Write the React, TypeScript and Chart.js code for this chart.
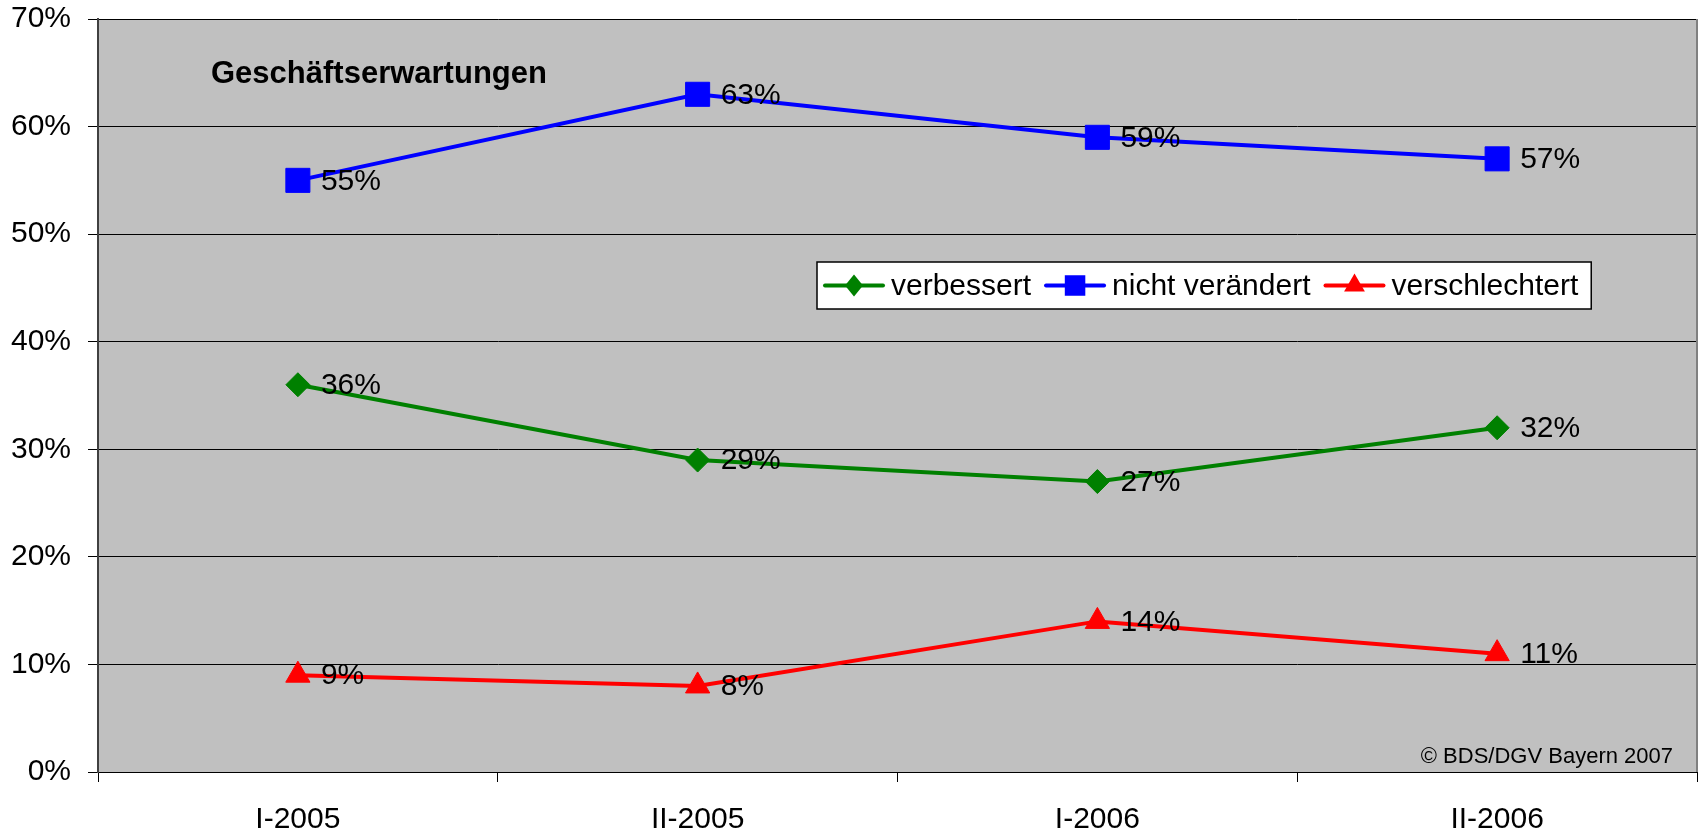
import React, { useEffect, useRef } from 'react';
import { Chart, registerables } from 'chart.js';

Chart.register(...registerables);

const categories = ['I-2005', 'II-2005', 'I-2006', 'II-2006'];
const verbessert = [36, 29, 27, 32];
const nichtVeraendert = [55, 63, 59, 57];
const verschlechtert = [9, 8, 14, 11];
const seriesNames = ['verbessert', 'nicht verändert', 'verschlechtert'];
const seriesColors = ['#008000', '#0000FF', '#FF0000'];
const seriesMarkers = ['rectRot', 'rect', 'triangle'];
const markerRadii = [12, 17, 14];
const legendMarkerRadii = [10, 14.5, 12];
const yMin = 0;
const yMax = 70;
const yStep = 10;
const chartTitle = 'Geschäftserwartungen';
const sourceNote = '© BDS/DGV Bayern 2007';

const FONT = '"Liberation Sans", Arial, Helvetica, sans-serif';

function drawMarker(ctx: CanvasRenderingContext2D, style: string, x: number, y: number, r: number, color: string) {
  ctx.save();
  ctx.fillStyle = color;
  ctx.beginPath();
  if (style === 'rect') {
    const s = Math.SQRT1_2 * r;
    ctx.rect(x - s, y - s, 2 * s, 2 * s);
  } else if (style === 'rectRot') {
    ctx.moveTo(x, y - r * 1.1);
    ctx.lineTo(x + r * 0.9, y);
    ctx.lineTo(x, y + r * 1.1);
    ctx.lineTo(x - r * 0.9, y);
    ctx.closePath();
  } else {
    const a = Math.PI * 2 / 3;
    ctx.moveTo(x, y - r);
    ctx.lineTo(x + Math.sin(a) * r, y - Math.cos(a) * r);
    ctx.lineTo(x - Math.sin(a) * r, y - Math.cos(a) * r);
    ctx.closePath();
  }
  ctx.fill();
  ctx.restore();
}

const backgroundPlugin = {
  id: 'bgPlugin',
  beforeDraw(chart: any) {
    const { ctx, chartArea, width, height } = chart;
    ctx.save();
    ctx.fillStyle = '#FFFFFF';
    ctx.fillRect(0, 0, width, height);
    ctx.fillStyle = '#C0C0C0';
    ctx.fillRect(chartArea.left, chartArea.top, chartArea.right - chartArea.left, chartArea.bottom - chartArea.top);
    ctx.restore();
  },
};

const overlayPlugin = {
  id: 'overlayPlugin',
  afterDatasetsDraw(chart: any) {
    const { ctx, chartArea } = chart;
    ctx.save();
    // right border of plot area
    ctx.strokeStyle = '#808080';
    ctx.lineWidth = 2;
    ctx.beginPath();
    ctx.moveTo(chartArea.right, chartArea.top);
    ctx.lineTo(chartArea.right, chartArea.bottom);
    ctx.stroke();

    // data labels
    ctx.fillStyle = '#000';
    ctx.font = `30px ${FONT}`;
    ctx.textAlign = 'left';
    ctx.textBaseline = 'middle';
    chart.data.datasets.forEach((ds: any, i: number) => {
      const meta = chart.getDatasetMeta(i);
      meta.data.forEach((pt: any, j: number) => {
        ctx.fillText(ds.data[j] + '%', pt.x + 23, pt.y + 1);
      });
    });

    // title
    ctx.font = `bold 31px ${FONT}`;
    ctx.textBaseline = 'middle';
    ctx.fillText(chartTitle, 211, 74);

    // source note
    ctx.font = `22px ${FONT}`;
    ctx.textAlign = 'right';
    ctx.textBaseline = 'alphabetic';
    ctx.fillText(sourceNote, chartArea.right - 24, chartArea.bottom - 9);

    // legend
    ctx.font = `30px ${FONT}`;
    ctx.textAlign = 'left';
    ctx.textBaseline = 'middle';
    const boxLeft = 817;
    const boxTop = 262;
    const boxH = 47;
    const lineLen = 58;
    const gapText = 8;
    const gapItem = 15;
    let total = 8;
    const widths = seriesNames.map((n) => ctx.measureText(n).width);
    widths.forEach((w, i) => {
      total += lineLen + gapText + w + (i < widths.length - 1 ? gapItem : 0);
    });
    total += 13;
    ctx.fillStyle = '#FFFFFF';
    ctx.fillRect(boxLeft, boxTop, total, boxH);
    ctx.strokeStyle = '#000';
    ctx.lineWidth = 1.5;
    ctx.strokeRect(boxLeft, boxTop, total, boxH);
    const cy = boxTop + boxH / 2;
    let x = boxLeft + 8;
    seriesNames.forEach((n, i) => {
      ctx.strokeStyle = seriesColors[i];
      ctx.lineWidth = 4;
      ctx.lineCap = 'round';
      ctx.beginPath();
      ctx.moveTo(x, cy);
      ctx.lineTo(x + lineLen, cy);
      ctx.stroke();
      drawMarker(ctx, seriesMarkers[i], x + lineLen / 2, cy, legendMarkerRadii[i], seriesColors[i]);
      x += lineLen + gapText;
      ctx.fillStyle = '#000';
      ctx.fillText(n, x, cy + 1);
      x += widths[i] + gapItem;
    });
    ctx.restore();
  },
};

function zeroPadding(scale: any) {
  scale.paddingTop = 0;
  scale.paddingBottom = 0;
  scale.paddingLeft = 0;
  scale.paddingRight = 0;
}

export default function App() {
  const ref = useRef<HTMLCanvasElement | null>(null);
  useEffect(() => {
    if (!ref.current) return;
    const allData = [verbessert, nichtVeraendert, verschlechtert];
    const chart = new Chart(ref.current, {
      type: 'line',
      data: {
        labels: categories,
        datasets: seriesNames.map((name, i) => ({
          label: name,
          data: allData[i],
          borderColor: seriesColors[i],
          backgroundColor: seriesColors[i],
          borderWidth: 4,
          pointStyle: seriesMarkers[i] as any,
          pointRadius: markerRadii[i],
          pointBorderWidth: 1,
          pointBorderColor: seriesColors[i],
          pointBackgroundColor: seriesColors[i],
          tension: 0,
          fill: false,
        })),
      },
      options: {
        responsive: false,
        animation: false,
        devicePixelRatio: 1,
        layout: { padding: { top: 19, right: 5, left: 0, bottom: 0 }, autoPadding: false } as any,
        plugins: {
          legend: { display: false },
          title: { display: false },
          tooltip: { enabled: false },
        },
        scales: {
          x: {
            type: 'category',
            offset: true,
            grid: {
              display: true,
              offset: true,
              drawOnChartArea: false,
              drawTicks: true,
              tickLength: 10,
              color: '#000',
              tickColor: '#000',
              lineWidth: 1,
            },
            border: { display: true, color: '#000', width: 1 },
            ticks: {
              color: '#000',
              font: { family: FONT, size: 30 },
              padding: 20,
              maxRotation: 0,
              autoSkip: false,
            },
            afterFit(scale: any) {
              scale.height = 61;
              zeroPadding(scale);
            },
          },
          y: {
            min: yMin,
            max: yMax,
            grid: {
              color: '#000',
              tickColor: '#000',
              lineWidth: 1,
              tickLength: 10,
              drawTicks: true,
            },
            border: { display: true, color: '#404040', width: 2 },
            ticks: {
              stepSize: yStep,
              color: '#000',
              font: { family: FONT, size: 30 },
              padding: 17,
              callback: (v: any) => v + '%',
            },
            afterFit(scale: any) {
              scale.width = 98;
              zeroPadding(scale);
            },
          },
        },
      },
      plugins: [backgroundPlugin, overlayPlugin],
    });
    return () => chart.destroy();
  }, []);
  return (
    <div style={{ position: 'fixed', left: 0, top: 0, width: 1702, height: 833, background: '#fff' }}>
      <canvas ref={ref} width={1702} height={833} style={{ display: 'block', width: 1702, height: 833 }} />
    </div>
  );
}
